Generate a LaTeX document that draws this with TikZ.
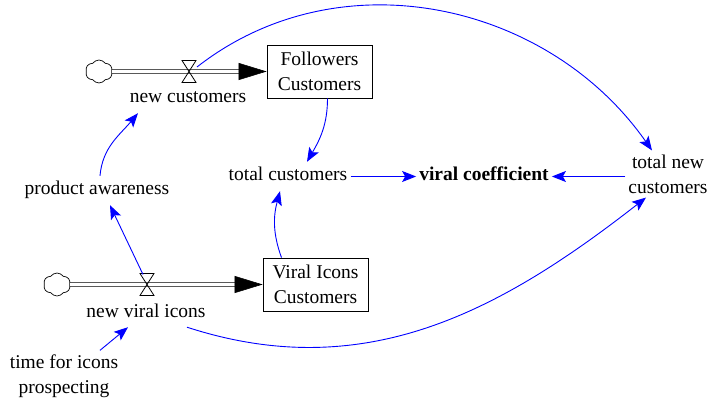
\documentclass[tikz,border=0pt]{standalone}
\usepackage{fontspec}
\setmainfont{Liberation Serif}
\usetikzlibrary{arrows.meta,shapes.symbols}

\tikzset{
  stock/.style={draw,line width=0.8pt,minimum width=105pt,minimum height=53pt,inner sep=0pt,align=center},
  var/.style={inner xsep=3pt,inner ysep=6pt,text height=13pt,text depth=4pt},
  var2/.style={align=center,inner xsep=3pt,inner ysep=4pt},
  srccloud/.style={cloud,cloud puffs=6,cloud puff arc=110,draw,line width=0.7pt,minimum width=27pt,minimum height=23pt,inner sep=0pt},
  pipe/.style={double,double distance=2.6pt,line width=0.9pt},
  pipehead/.style={-{Triangle[length=28pt,width=17pt]},line width=0.6pt},
  link/.style={blue,line width=0.9pt,-{Stealth[length=14pt,width=11pt,inset=3pt]}},
  valve/.pic={\draw[line width=0.8pt] (-7,11) -- (7,11) -- (-7,-11) -- (7,-11) -- cycle;}
}

\begin{document}
\begin{tikzpicture}[x=1pt,y=1pt,font=\fontsize{19.5}{25}\selectfont]
  \useasboundingbox (0,0) rectangle (722,399);
  % stocks, clouds and flows
  \node[stock] (fol) at (319.5,327.5) {Followers\\Customers};
  \node[stock] (vic) at (315.5,114.5) {Viral Icons\\Customers};
  \node[srccloud] (c1) at (99,327.5) {};
  \node[srccloud] (c2) at (57,114.5) {};
  \coordinate (v1) at (189,327.5);
  \coordinate (v2) at (147,114.5);
  \foreach \c/\s in {c1/fol, c2/vic} {
    \draw[pipe] (\c.east) -- ([xshift=-27pt]\s.west);
    \draw[pipehead] ([xshift=-28pt]\s.west) -- (\s.west);
  }
  \pic at (v1) {valve};
  \pic at (v2) {valve};
  % auxiliaries
  \node[var] (nc) at (188,300.5) {new customers};
  \node[var] (nvi) at (146,86.5) {new viral icons};
  \node[var] (pa) at (97,208.5) {product awareness};
  \node[var] (tc) at (288,222.5) {total customers};
  \node[var] (vc) at (484,222.5) {\bfseries viral coefficient};
  \node[var2] (tnc) at (668,225) {total new\\customers};
  \node[var2] (tfi) at (64,23) {time for icons\\prospecting};
  % links
  \draw[link] ([shift={(8,4.5)}]v1) to[out=38,in=125] ([xshift=-16pt]tnc.north);
  \draw[link] ([xshift=8pt]fol.south) to[out=-90,in=60] ([xshift=19pt]tc.north);
  \draw[link] ([xshift=-34pt]vic.north) to[out=110,in=-105] ([xshift=-8pt]tc.south);
  \draw[link] (tc.east) -- (vc.west);
  \draw[link] (tnc.west |- vc.east) -- (vc.east);
  \draw[link] ([shift={(-4,10)}]v2) -- ([xshift=13pt]pa.south);
  \draw[link] ([xshift=3pt]pa.north) to[out=85,in=230] ([xshift=-50pt]nc.south);
  \draw[link] ([xshift=36pt]tfi.north) -- ([xshift=-18pt]nvi.south);
  \draw[link] ([xshift=41pt]nvi.south) to[out=-18,in=218] ([xshift=-22pt]tnc.south);
\end{tikzpicture}
\end{document}
